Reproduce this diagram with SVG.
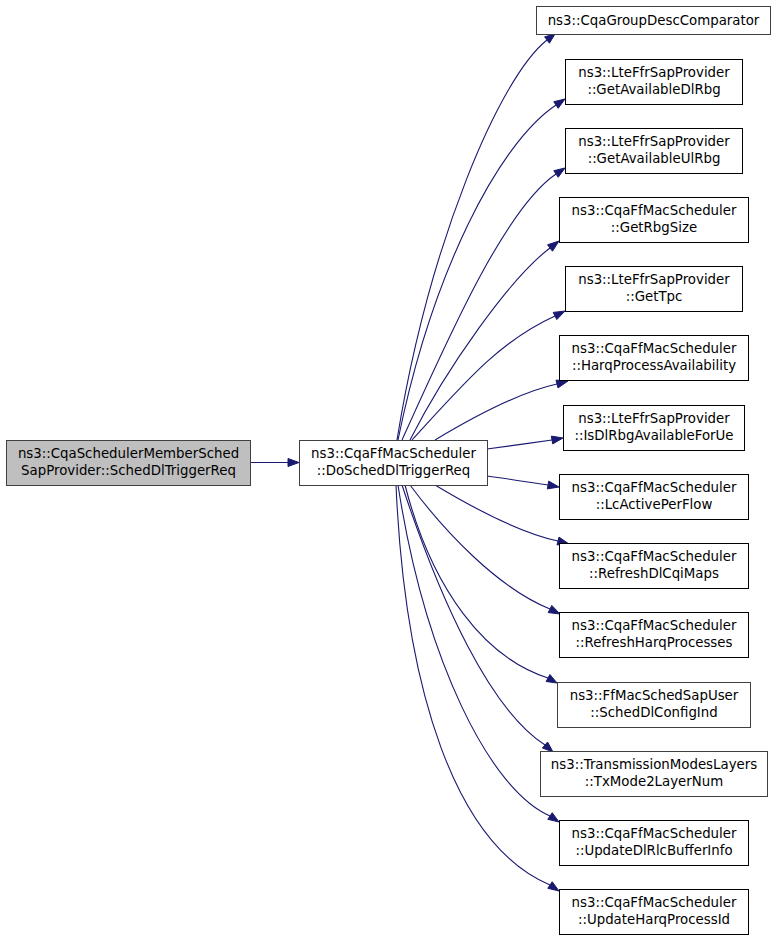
<svg xmlns="http://www.w3.org/2000/svg" width="776" height="941" viewBox="0 0 776 941">
<style>
.n rect{fill:#ffffff;stroke:#000000;stroke-width:1}
.n.g rect{stroke:#404040}
.n.root rect{fill:#bfbfbf;stroke:#404040}
.n text{font-family:"DejaVu Sans","Liberation Sans",sans-serif;font-size:13.33px;fill:#000000;text-anchor:middle}
.e path{fill:none;stroke:#191970;stroke-width:1.1}
.e polygon{fill:#191970;stroke:#191970;stroke-width:1}
</style>
<rect x="0" y="0" width="776" height="941" fill="#ffffff"/>
<g id="edges" class="e">
<path d="M250,462.5 L288,462.5"/><polygon points="288,466.5 299,462.5 288,458.5"/>
<path d="M397,440 C429,242 500,77 547,40"/><polygon points="549.4,43.2 555,34 544.6,36.8"/>
<path d="M398,440 C432,273 498,144 556,105"/><polygon points="558.2,108.3 565,99 553.8,101.7"/>
<path d="M402,440 C451,331 506,208 556,174"/><polygon points="558.2,177.3 565,168 553.8,170.7"/>
<path d="M410,440 C446,369 510,278 550,248"/><polygon points="552.5,251.2 559,241 547.5,244.8"/>
<path d="M412,440 C466,381 500,341 555,316"/><polygon points="556.8,319.6 565,311 553.2,312.4"/>
<path d="M435,440 C475,416 520,392 557,384"/><polygon points="558,387.9 568,381 556,380.1"/>
<path d="M487,449 C510,446 530,443 552,440"/><polygon points="552.7,443.9 563,438 551.3,436.1"/>
<path d="M487,476 C510,479 528,482 548,485"/><polygon points="547.3,488.9 559,487 548.7,481.1"/>
<path d="M435,485 C475,509 520,533 558,541"/><polygon points="557,544.9 569,544 559,537.1"/>
<path d="M410,485 C445,532 498,588 550,609"/><polygon points="548.2,612.6 560,614 551.8,605.4"/>
<path d="M405,485 C432,590 485,658 548,678"/><polygon points="546.1,681.5 557,683 549.9,674.5"/>
<path d="M402,485 C440,600 490,710 545,745"/><polygon points="542.4,748 553,752 547.6,742"/>
<path d="M398,485 C425,660 490,790 550,816"/><polygon points="547.8,819.3 559,822 552.2,812.7"/>
<path d="M396,485 C405,690 455,845 550,885"/><polygon points="547.8,888.3 559,891 552.2,881.7"/>
</g>
<g id="node_root" class="n root"><rect x="6.5" y="440.5" width="244" height="45"/><text x="128.5" y="458">ns3::CqaSchedulerMemberSched</text><text x="128.5" y="474.5">SapProvider::SchedDlTriggerReq</text></g>
<g id="node_do" class="n g"><rect x="299.5" y="440.5" width="188" height="45"/><text x="393.5" y="458">ns3::CqaFfMacScheduler</text><text x="393.5" y="474.5">::DoSchedDlTriggerReq</text></g>
<g id="node1" class="n g"><rect x="536.5" y="6.5" width="234" height="28"/><text x="653.5" y="25">ns3::CqaGroupDescComparator</text></g>
<g id="node2" class="n"><rect x="565.5" y="59.5" width="177" height="45"/><text x="654" y="77">ns3::LteFfrSapProvider</text><text x="654" y="93.5">::GetAvailableDlRbg</text></g>
<g id="node3" class="n"><rect x="565.5" y="128.5" width="177" height="45"/><text x="654" y="146">ns3::LteFfrSapProvider</text><text x="654" y="162.5">::GetAvailableUlRbg</text></g>
<g id="node4" class="n"><rect x="559.5" y="197.5" width="189" height="45"/><text x="654" y="215">ns3::CqaFfMacScheduler</text><text x="654" y="231.5">::GetRbgSize</text></g>
<g id="node5" class="n"><rect x="565.5" y="266.5" width="177" height="45"/><text x="654" y="284">ns3::LteFfrSapProvider</text><text x="654" y="300.5">::GetTpc</text></g>
<g id="node6" class="n"><rect x="559.5" y="335.5" width="189" height="45"/><text x="654" y="353">ns3::CqaFfMacScheduler</text><text x="654" y="369.5">::HarqProcessAvailability</text></g>
<g id="node7" class="n"><rect x="563.5" y="405.5" width="181" height="45"/><text x="654" y="423">ns3::LteFfrSapProvider</text><text x="654" y="439.5">::IsDlRbgAvailableForUe</text></g>
<g id="node8" class="n"><rect x="559.5" y="474.5" width="189" height="45"/><text x="654" y="492">ns3::CqaFfMacScheduler</text><text x="654" y="508.5">::LcActivePerFlow</text></g>
<g id="node9" class="n"><rect x="559.5" y="543.5" width="189" height="45"/><text x="654" y="561">ns3::CqaFfMacScheduler</text><text x="654" y="577.5">::RefreshDlCqiMaps</text></g>
<g id="node10" class="n"><rect x="559.5" y="612.5" width="189" height="45"/><text x="654" y="630">ns3::CqaFfMacScheduler</text><text x="654" y="646.5">::RefreshHarqProcesses</text></g>
<g id="node11" class="n g"><rect x="557.5" y="682.5" width="193" height="45"/><text x="654" y="700">ns3::FfMacSchedSapUser</text><text x="654" y="716.5">::SchedDlConfigInd</text></g>
<g id="node12" class="n g"><rect x="540.5" y="751.5" width="227" height="45"/><text x="654" y="769">ns3::TransmissionModesLayers</text><text x="654" y="785.5">::TxMode2LayerNum</text></g>
<g id="node13" class="n"><rect x="559.5" y="820.5" width="189" height="45"/><text x="654" y="838">ns3::CqaFfMacScheduler</text><text x="654" y="854.5">::UpdateDlRlcBufferInfo</text></g>
<g id="node14" class="n"><rect x="559.5" y="889.5" width="189" height="45"/><text x="654" y="907">ns3::CqaFfMacScheduler</text><text x="654" y="923.5">::UpdateHarqProcessId</text></g>
</svg>
